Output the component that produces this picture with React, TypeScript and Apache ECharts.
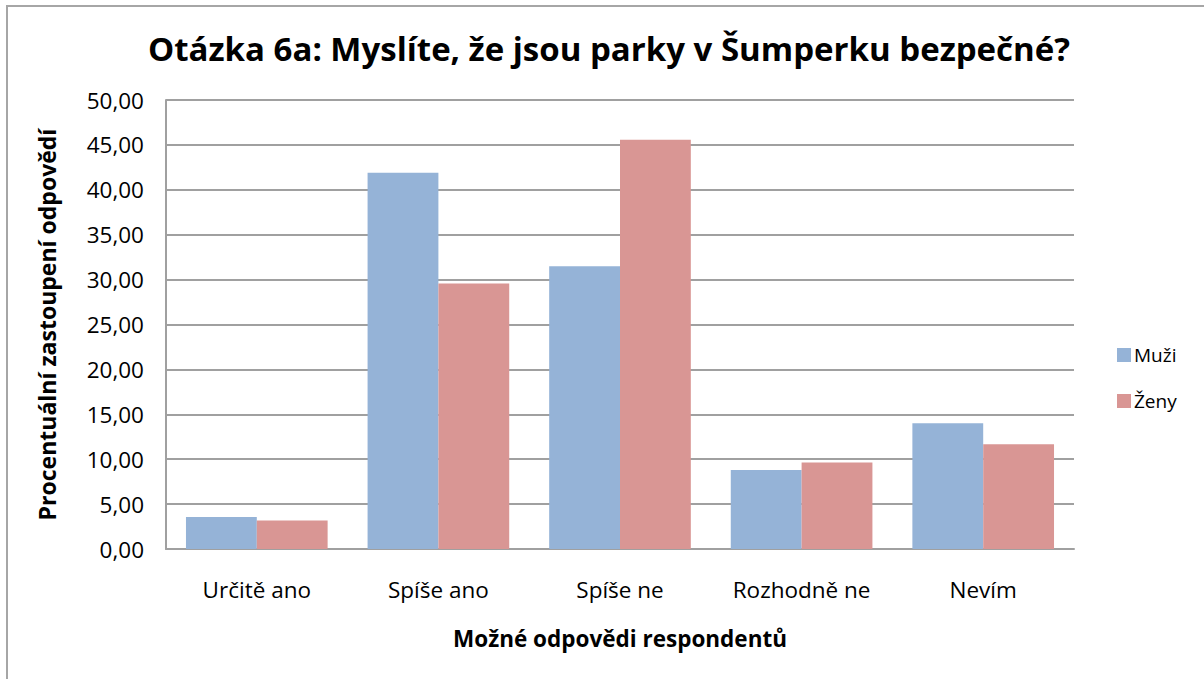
import React, { useEffect, useRef } from "react";
import * as echarts from "echarts";

const categories = ["Určitě ano", "Spíše ano", "Spíše ne", "Rozhodně ne", "Nevím"];
const muzi = [3.56, 41.89, 31.48, 8.81, 14.0];
const zeny = [3.18, 29.56, 45.56, 9.62, 11.67];
const seriesNames = ["Muži", "Ženy"];
const yTicks = { min: 0, max: 50, interval: 5 };

const FONT = "Open Sans";

export default function App() {
  const ref = useRef<HTMLDivElement>(null);
  useEffect(() => {
    const chart = echarts.init(ref.current!, null, { renderer: "svg" });
    chart.setOption({
      animation: false,
      backgroundColor: "#ffffff",
      textStyle: { fontFamily: FONT },
      title: {
        text: "Otázka 6a: Myslíte, že jsou parky v Šumperku bezpečné?",
        left: 604,
        top: 27,
        textAlign: "center",
        textStyle: { fontFamily: FONT, fontSize: 33, fontWeight: "bold", color: "#000" },
      },
      graphic: [
        {
          type: "polyline",
          shape: { points: [[7, 679], [7, 6], [1204, 6]] },
          style: { stroke: "#a6a6a6", lineWidth: 2, fill: "none" },
          silent: true,
        },
      ],
      legend: {
        orient: "vertical",
        left: 1112,
        top: 340,
        itemWidth: 14,
        itemHeight: 14,
        itemGap: 26,
        icon: "rect",
        data: seriesNames,
        textStyle: { fontFamily: FONT, fontSize: 19, color: "#000", lineHeight: 20, padding: [0, 0, 0, -2] },
      },
      grid: { left: 166, top: 100, right: 130, bottom: 130 },
      xAxis: {
        type: "category",
        data: categories,
        name: "Možné odpovědi respondentů",
        nameLocation: "middle",
        nameGap: 78,
        nameTextStyle: { fontFamily: FONT, fontSize: 22.5, fontWeight: "bold", color: "#000" },
        axisLine: { lineStyle: { color: "#a0a0a0", width: 2 } },
        axisTick: { show: false },
        axisLabel: { fontFamily: FONT, fontSize: 22.5, color: "#000", margin: 29 },
      },
      yAxis: {
        type: "value",
        min: yTicks.min,
        max: yTicks.max,
        interval: yTicks.interval,
        name: "Procentuální zastoupení odpovědí",
        nameLocation: "middle",
        nameGap: 108,
        nameTextStyle: { fontFamily: FONT, fontSize: 23, fontWeight: "bold", color: "#000" },
        axisLine: { show: true, lineStyle: { color: "#a0a0a0", width: 2 } },
        axisTick: { show: false },
        splitLine: { lineStyle: { color: "#a0a0a0", width: 2 } },
        axisLabel: {
          fontFamily: FONT,
          fontSize: 22.5,
          color: "#000",
          margin: 22,
          formatter: (v: number) => v.toFixed(2).replace(".", ","),
        },
      },
      series: [
        {
          name: seriesNames[0],
          type: "bar",
          data: muzi,
          barGap: "0%",
          barCategoryGap: "22%",
          itemStyle: { color: "#95b3d7" },
        },
        {
          name: seriesNames[1],
          type: "bar",
          data: zeny,
          barGap: "0%",
          barCategoryGap: "22%",
          itemStyle: { color: "#d99694" },
        },
      ],
    });
    return () => chart.dispose();
  }, []);
  return (
    <div
      ref={ref}
      style={{ position: "fixed", left: 0, top: 0, width: 1204, height: 679 }}
    />
  );
}
